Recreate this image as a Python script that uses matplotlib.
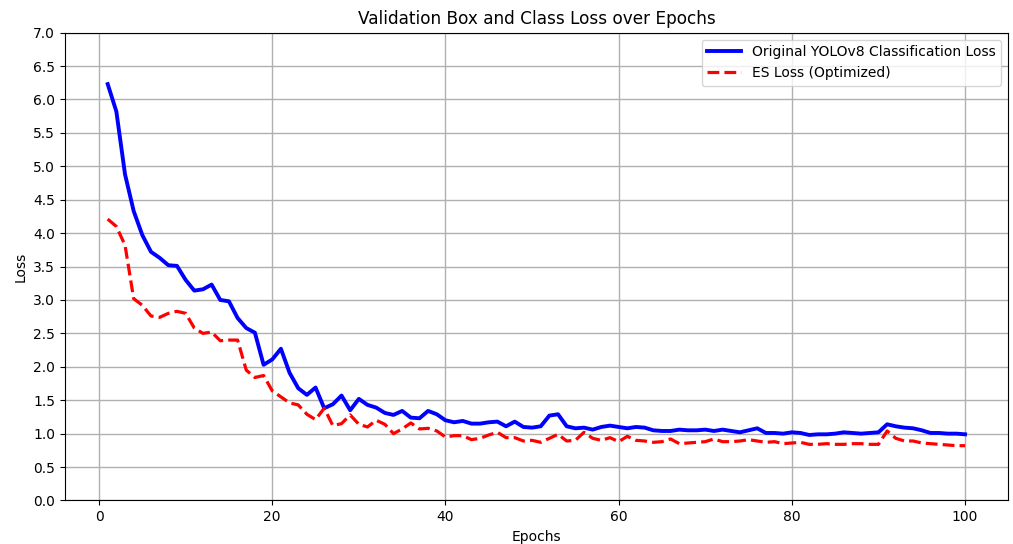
import matplotlib
matplotlib.use("Agg")
import matplotlib.pyplot as plt
import numpy as np

epochs = list(range(1, 101))

yolo_loss = [6.23, 5.82, 4.88, 4.33, 3.97, 3.72, 3.63, 3.52, 3.51, 3.30,
             3.14, 3.16, 3.23, 3.00, 2.98, 2.73, 2.58, 2.51, 2.03, 2.11,
             2.27, 1.91, 1.68, 1.58, 1.69, 1.38, 1.44, 1.57, 1.35, 1.52,
             1.43, 1.39, 1.31, 1.28, 1.34, 1.24, 1.23, 1.34, 1.29, 1.20,
             1.17, 1.19, 1.15, 1.15, 1.17, 1.18, 1.11, 1.18, 1.10, 1.09,
             1.11, 1.27, 1.29, 1.11, 1.08, 1.09, 1.06, 1.10, 1.12, 1.10,
             1.08, 1.10, 1.09, 1.05, 1.04, 1.04, 1.06, 1.05, 1.05, 1.06,
             1.04, 1.06, 1.04, 1.02, 1.05, 1.08, 1.01, 1.01, 1.00, 1.02,
             1.01, 0.98, 0.99, 0.99, 1.00, 1.02, 1.01, 1.00, 1.01, 1.02,
             1.14, 1.11, 1.09, 1.08, 1.05, 1.01, 1.01, 1.00, 1.00, 0.99]

es_loss = [4.21, 4.10, 3.82, 3.02, 2.92, 2.76, 2.74, 2.80, 2.83, 2.80,
           2.58, 2.50, 2.52, 2.39, 2.40, 2.40, 1.95, 1.84, 1.87, 1.64,
           1.55, 1.46, 1.43, 1.29, 1.21, 1.38, 1.12, 1.15, 1.28, 1.14,
           1.10, 1.20, 1.14, 1.00, 1.07, 1.16, 1.07, 1.08, 1.04, 0.95,
           0.97, 0.97, 0.91, 0.93, 0.98, 1.02, 0.94, 0.94, 0.89, 0.90,
           0.87, 0.93, 0.99, 0.89, 0.90, 1.02, 0.93, 0.90, 0.94, 0.88,
           0.96, 0.90, 0.89, 0.87, 0.88, 0.92, 0.85, 0.86, 0.87, 0.88,
           0.92, 0.88, 0.88, 0.89, 0.91, 0.89, 0.87, 0.88, 0.85, 0.86,
           0.87, 0.84, 0.84, 0.85, 0.84, 0.84, 0.85, 0.85, 0.84, 0.84,
           1.04, 0.93, 0.89, 0.89, 0.86, 0.85, 0.84, 0.83, 0.82, 0.82]

fig, ax = plt.subplots(figsize=(10.13, 5.44), dpi=100)
ax.plot(epochs, yolo_loss, color="blue", linewidth=2.8, label="Original YOLOv8 Classification Loss")
ax.plot(epochs, es_loss, color="red", linewidth=2.3, linestyle="--", label="ES Loss (Optimized)")
ax.set_title("Validation Box and Class Loss over Epochs", fontsize=12.2)
ax.set_xlabel("Epochs")
ax.set_ylabel("Loss")
ax.set_ylim(0, 7.0)
ax.set_yticks(np.arange(0, 7.01, 0.5))
ax.grid(True, color="#b0b0b0", linewidth=1)
ax.legend(loc="upper right", fontsize=10, handlelength=2.4)
fig.subplots_adjust(left=0.064, right=0.995, top=0.94, bottom=0.08)
fig.savefig("out.png", dpi=100)
